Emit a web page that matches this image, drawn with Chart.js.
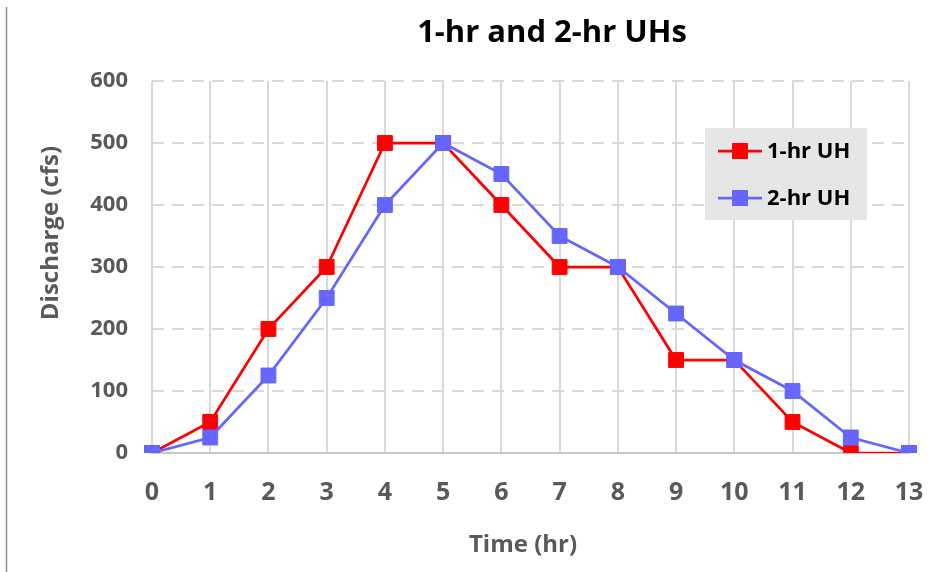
<!DOCTYPE html>
<html>
<head>
<meta charset="utf-8">
<script src="https://cdn.jsdelivr.net/npm/chart.js@4.4.0/dist/chart.umd.min.js"></script>
<style>
  html, body { margin: 0; padding: 0; background: #fff; }
  #wrap { width: 937px; height: 572px; position: relative; }
</style>
</head>
<body>
<div id="wrap"><canvas id="uhChart" width="937" height="572"></canvas></div>
<script>
// --- data ---
const hours = ['0', '1', '2', '3', '4', '5', '6', '7', '8', '9', '10', '11', '12', '13'];
const uh1 = [0, 50, 200, 300, 500, 500, 400, 300, 300, 150, 150, 50, 0, 0];
const uh2 = [0, 25, 125, 250, 400, 500, 450, 350, 300, 225, 150, 100, 25, 0];
const seriesNames = ['1-hr UH', '2-hr UH'];
const seriesColors = ['#ff0000', '#6666ff'];
const chartTitle = '1-hr and 2-hr UHs';
const xTitle = 'Time (hr)';
const yTitle = 'Discharge (cfs)';

const FONT = "'Open Sans', 'DejaVu Sans', sans-serif";
const GRAY = '#595959';
const GRID = '#d9d9d9';

// title, axis titles, legend box and left frame line
const extras = {
    id: 'extras',
    beforeDraw(chart) {
        const ctx = chart.ctx;
        ctx.save();
        ctx.strokeStyle = '#8c8c8c';
        ctx.lineWidth = 1.5;
        ctx.beginPath();
        ctx.moveTo(6.5, 7);
        ctx.lineTo(6.5, 572);
        ctx.stroke();
        ctx.textAlign = 'center';
        ctx.textBaseline = 'middle';
        ctx.fillStyle = '#000';
        ctx.font = 'bold 31px ' + FONT;
        ctx.fillText(chartTitle, 552, 33);
        ctx.fillStyle = GRAY;
        ctx.font = 'bold 24px ' + FONT;
        ctx.fillText(xTitle, 523, 545);
        ctx.translate(51, 233);
        ctx.rotate(-Math.PI / 2);
        ctx.fillText(yTitle, 0, 0);
        ctx.restore();
    },
    afterDraw(chart) {
        const ctx = chart.ctx;
        ctx.save();
        ctx.fillStyle = '#e7e6e6';
        ctx.fillRect(705, 128, 162, 92);
        chart.data.datasets.forEach((ds, i) => {
            const y = 151 + i * 47;
            ctx.strokeStyle = ds.borderColor;
            ctx.lineWidth = 2.75;
            ctx.beginPath();
            ctx.moveTo(718, y);
            ctx.lineTo(762, y);
            ctx.stroke();
            ctx.fillStyle = ds.borderColor;
            ctx.fillRect(732, y - 8, 16, 16);
            ctx.fillStyle = '#000';
            ctx.font = 'bold 22px ' + FONT;
            ctx.textAlign = 'left';
            ctx.textBaseline = 'middle';
            ctx.fillText(ds.label, 767, y + 1);
        });
        ctx.restore();
    }
};

const mkSet = (i, data, order) => ({
    label: seriesNames[i],
    data: data,
    borderColor: seriesColors[i],
    backgroundColor: seriesColors[i],
    borderWidth: 2.75,
    pointStyle: 'rect',
    pointRadius: 10.5,
    pointBorderWidth: 1,
    pointHoverRadius: 10.5,
    tension: 0,
    order: order
});

new Chart(document.getElementById('uhChart'), {
    type: 'line',
    data: {
        labels: hours,
        datasets: [mkSet(0, uh1, 1), mkSet(1, uh2, 0)]
    },
    options: {
        responsive: false,
        animation: false,
        layout: { padding: { top: 81, right: 28, bottom: 0, left: 0 } },
        plugins: {
            legend: { display: false },
            title: { display: false },
            tooltip: { enabled: false }
        },
        scales: {
            x: {
                grid: { color: GRID, lineWidth: 2, drawTicks: false },
                border: { display: true, color: '#c8c8c8', width: 2 },
                ticks: { color: GRAY, font: { family: FONT, size: 25, weight: 'bold' }, padding: 25, maxRotation: 0 },
                afterFit(scale) { scale.paddingRight = 0; scale.paddingLeft = 0; scale.height = 119; }
            },
            y: {
                min: 0, max: 600,
                ticks: { stepSize: 100, color: GRAY, font: { family: FONT, size: 22, weight: 'bold' }, padding: 24 },
                grid: { color: GRID, lineWidth: 2, drawTicks: false, borderDash: [12, 8] },
                border: { display: false, dash: [12, 8] },
                afterFit(scale) { scale.width = 152; }
            }
        }
    },
    plugins: [extras]
});
</script>
</body>
</html>
